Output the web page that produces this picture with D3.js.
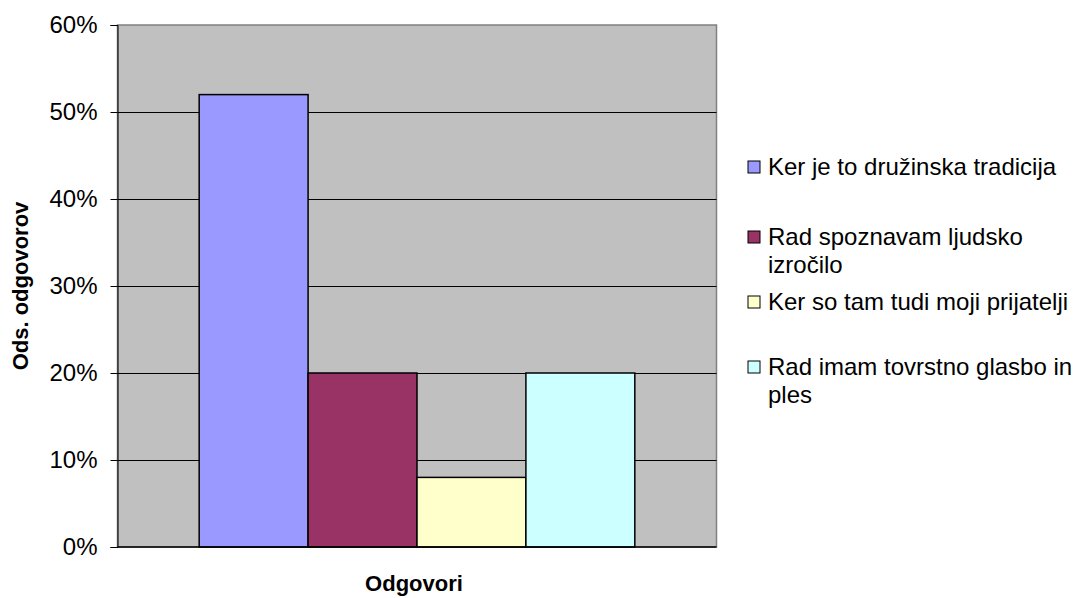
<!DOCTYPE html>
<html>
<head>
<meta charset="utf-8">
<script src="https://cdn.jsdelivr.net/npm/d3@7"></script>
<style>
  body { margin: 0; background: #fff; }
  text { font-family: "Liberation Sans", Arial, sans-serif; }
</style>
</head>
<body>
<svg id="chart" width="1084" height="598"></svg>
<script>
var categories = ["Ker je to družinska tradicija", "Rad spoznavam ljudsko izročilo", "Ker so tam tudi moji prijatelji", "Rad imam tovrstno glasbo in ples"];
var legendLines = [["Ker je to družinska tradicija"], ["Rad spoznavam ljudsko", "izročilo"], ["Ker so tam tudi moji prijatelji"], ["Rad imam tovrstno glasbo in", "ples"]];
var values = [0.52, 0.20, 0.08, 0.20];
var colors = ["#9999ff", "#993366", "#ffffcc", "#ccffff"];
var yTicks = [0, 0.1, 0.2, 0.3, 0.4, 0.5, 0.6];

var svg = d3.select("#chart");
var plot = {left: 117.5, top: 25, right: 716.5, bottom: 547};

var y = d3.scaleLinear().domain([0, 0.6]).range([plot.bottom, plot.top]);

// one group of 4 bars, gap width 150% of a bar
var barW = (plot.right - plot.left) / (categories.length + 1.5);
var x = d3.scaleBand().domain(categories)
  .range([plot.left + barW * 0.75, plot.right - barW * 0.75]);

svg.append("rect")
  .attr("x", plot.left).attr("y", plot.top)
  .attr("width", plot.right - plot.left).attr("height", plot.bottom - plot.top)
  .attr("fill", "#c0c0c0").attr("stroke", "#808080").attr("stroke-width", 1.5);

svg.append("g").selectAll("line")
  .data(yTicks.slice(1, -1))
  .enter().append("line")
  .attr("x1", plot.left).attr("x2", plot.right)
  .attr("y1", function(d) { return Math.round(y(d)) + 0.5; })
  .attr("y2", function(d) { return Math.round(y(d)) + 0.5; })
  .attr("stroke", "#000").attr("stroke-width", 1);

svg.append("g").selectAll("rect")
  .data(values)
  .enter().append("rect")
  .attr("x", function(d, i) { return x(categories[i]); })
  .attr("y", function(d) { return y(d); })
  .attr("width", x.bandwidth())
  .attr("height", function(d) { return plot.bottom - y(d); })
  .attr("fill", function(d, i) { return colors[i]; })
  .attr("stroke", "#000").attr("stroke-width", 1.5);

var yAxis = svg.append("g")
  .attr("transform", "translate(" + plot.left + ",0)")
  .call(d3.axisLeft(y).tickValues(yTicks).tickFormat(d3.format(".0%")).tickSizeOuter(0).tickSize(7).tickPadding(13));
yAxis.select(".domain").attr("stroke", "#000");
yAxis.selectAll(".tick line").attr("stroke", "#000");
yAxis.selectAll("text").attr("font-size", 24).attr("fill", "#000")
  .style("font-family", "'Liberation Sans', Arial, sans-serif");

svg.append("line")
  .attr("x1", plot.left).attr("x2", plot.right)
  .attr("y1", plot.bottom).attr("y2", plot.bottom)
  .attr("stroke", "#000").attr("stroke-width", 1.5);

svg.append("text")
  .attr("transform", "translate(28,286) rotate(-90)")
  .attr("text-anchor", "middle")
  .attr("font-size", 22).attr("font-weight", "bold")
  .text("Ods. odgovorov");

svg.append("text")
  .attr("x", 414).attr("y", 591)
  .attr("text-anchor", "middle")
  .attr("font-size", 22).attr("font-weight", "bold")
  .text("Odgovori");

var legendY = [175, 245, 310, 375];
var legend = svg.append("g").selectAll("g")
  .data(legendLines)
  .enter().append("g")
  .attr("transform", function(d, i) { return "translate(748," + legendY[i] + ")"; });

legend.append("rect")
  .attr("x", 0).attr("y", -14).attr("width", 12).attr("height", 12)
  .attr("fill", function(d, i) { return colors[i]; })
  .attr("stroke", "#000").attr("stroke-width", 1);

legend.each(function(lines) {
  var t = d3.select(this).append("text")
    .attr("x", 20).attr("y", 0)
    .attr("font-size", 24);
  lines.forEach(function(l, j) {
    t.append("tspan").attr("x", 20).attr("dy", j === 0 ? 0 : 28).text(l);
  });
});
</script>
</body>
</html>
